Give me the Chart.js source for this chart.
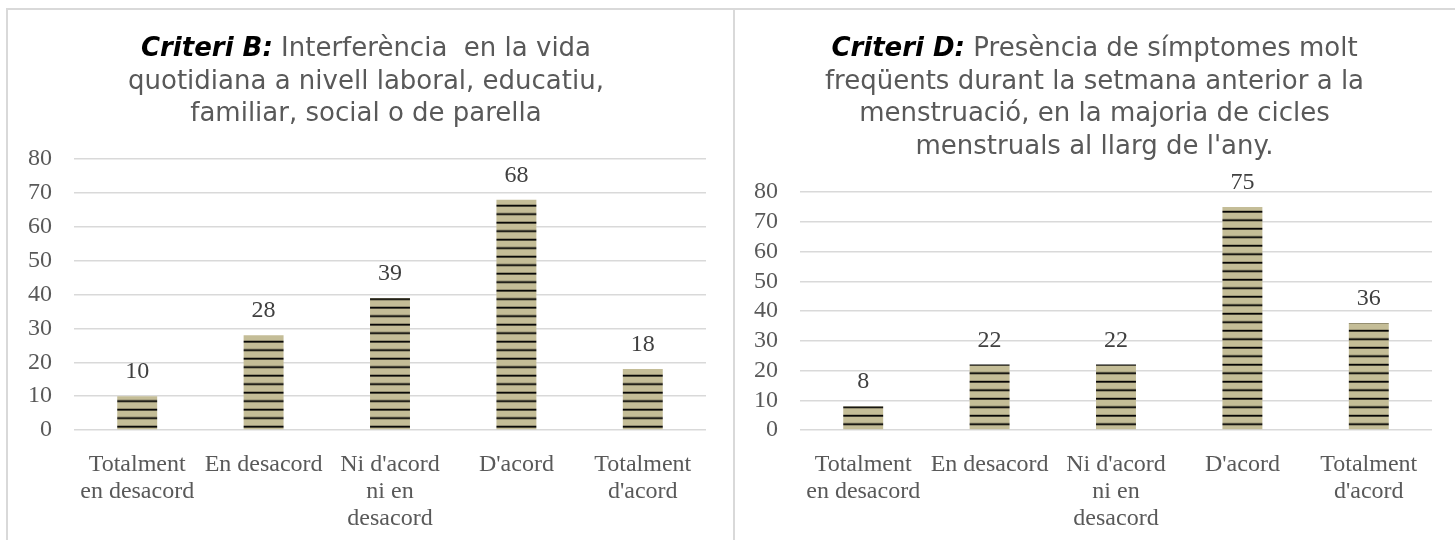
<!DOCTYPE html>
<html>
<head>
<meta charset="utf-8">
<script src="https://cdn.jsdelivr.net/npm/chart.js@4.4.1/dist/chart.umd.min.js"></script>
<style>
  body { margin: 0; width: 1455px; height: 540px; background: #fff; overflow: hidden; position: relative; }
  .box { position: absolute; top: 8px; bottom: 0; border-left: 2px solid #d9d9d9; border-top: 2px solid #d9d9d9; }
  #boxB { left: 6px; width: 726px; }
  #boxD { left: 733px; right: 0; }
  canvas { position: absolute; top: 0; }
  #chartB { left: 0; }
  #chartD { left: 734px; }
  .title { position: absolute; top: 31px; text-align: center; font-family: "DejaVu Sans"; font-size: 26px; line-height: 32.7px; color: #595959; white-space: pre; }
  .title b { font-style: italic; color: #000; }
  #titleB { left: 0; width: 732px; }
  #titleD { left: 734px; width: 721px; }
</style>
</head>
<body>
<div class="box" id="boxB"></div>
<div class="box" id="boxD"></div>
<canvas id="chartB" width="734" height="540"></canvas>
<canvas id="chartD" width="721" height="540"></canvas>
<div class="title" id="titleB"><b>Criteri B:</b> Interferència  en la vida
quotidiana a nivell laboral, educatiu,
familiar, social o de parella</div>
<div class="title" id="titleD"><b>Criteri D:</b> Presència de símptomes molt
freqüents durant la setmana anterior a la
menstruació, en la majoria de cicles
menstruals al llarg de l'any.</div>
<script>
// DATA
const categories = [
  ['Totalment', 'en desacord'],
  ['En desacord'],
  ["Ni d'acord", 'ni en', 'desacord'],
  ["D'acord"],
  ['Totalment', "d'acord"]
];
const criteriB = [10, 28, 39, 68, 18];
const criteriD = [8, 22, 22, 75, 36];
const yMax = 80;
const yStep = 10;

Chart.defaults.font.family = '"Liberation Serif", serif';
Chart.defaults.font.size = 24;
Chart.defaults.color = '#595959';

// striped tan fill like the excel pattern
const makeStripes = (ctx, offset) => {
  const tile = document.createElement('canvas');
  tile.width = 8;
  tile.height = 17;
  const t = tile.getContext('2d');
  t.fillStyle = '#c4bd97';
  t.fillRect(0, 0, 8, 17);
  t.fillStyle = '#000';
  t.fillRect(0, 0, 8, 1.8);
  t.fillRect(0, 8.5, 8, 1.8);
  const pattern = ctx.createPattern(tile, 'repeat');
  pattern.setTransform(new DOMMatrix().translate(0, offset));
  return pattern;
};

// numbers above the bars
const valueLabels = {
  id: 'valueLabels',
  afterDatasetsDraw(chart) {
    const ctx = chart.ctx;
    const values = chart.data.datasets[0].data;
    ctx.save();
    ctx.font = '24px "Liberation Serif"';
    ctx.fillStyle = '#404040';
    ctx.textAlign = 'center';
    ctx.textBaseline = 'middle';
    chart.getDatasetMeta(0).data.forEach((bar, i) => {
      ctx.fillText(values[i], bar.x, bar.y - 24);
    });
    ctx.restore();
  }
};

const makeChart = (id, values, yWidth, padTop, padRight, stripeOffset) => {
  const ctx = document.getElementById(id).getContext('2d');
  return new Chart(ctx, {
    type: 'bar',
    data: {
      labels: categories,
      datasets: [{
        data: values,
        backgroundColor: makeStripes(ctx, stripeOffset),
        borderWidth: 0,
        categoryPercentage: 1,
        barPercentage: 0.316
      }]
    },
    options: {
      responsive: false,
      animation: false,
      layout: { padding: { top: padTop, right: padRight, left: 0, bottom: 0 } },
      plugins: { legend: { display: false }, tooltip: { enabled: false } },
      scales: {
        x: {
          grid: { display: false },
          border: { display: false },
          ticks: { maxRotation: 0, autoSkip: false, padding: 13, font: { lineHeight: 1.125 } },
          afterFit: (scale) => { scale.height = 110; }
        },
        y: {
          min: 0,
          max: yMax,
          grid: { color: '#d9d9d9', lineWidth: 1.5, drawTicks: false },
          border: { display: false },
          ticks: { stepSize: yStep, padding: 22, autoSkip: false },
          afterFit: (scale) => { scale.width = yWidth; }
        }
      }
    },
    plugins: [valueLabels]
  });
};

// CRITERI B
makeChart('chartB', criteriB, 74, 159, 28, 0.7);

// CRITERI D
makeChart('chartD', criteriD, 66, 192, 23, 6.8);
</script>
</body>
</html>
